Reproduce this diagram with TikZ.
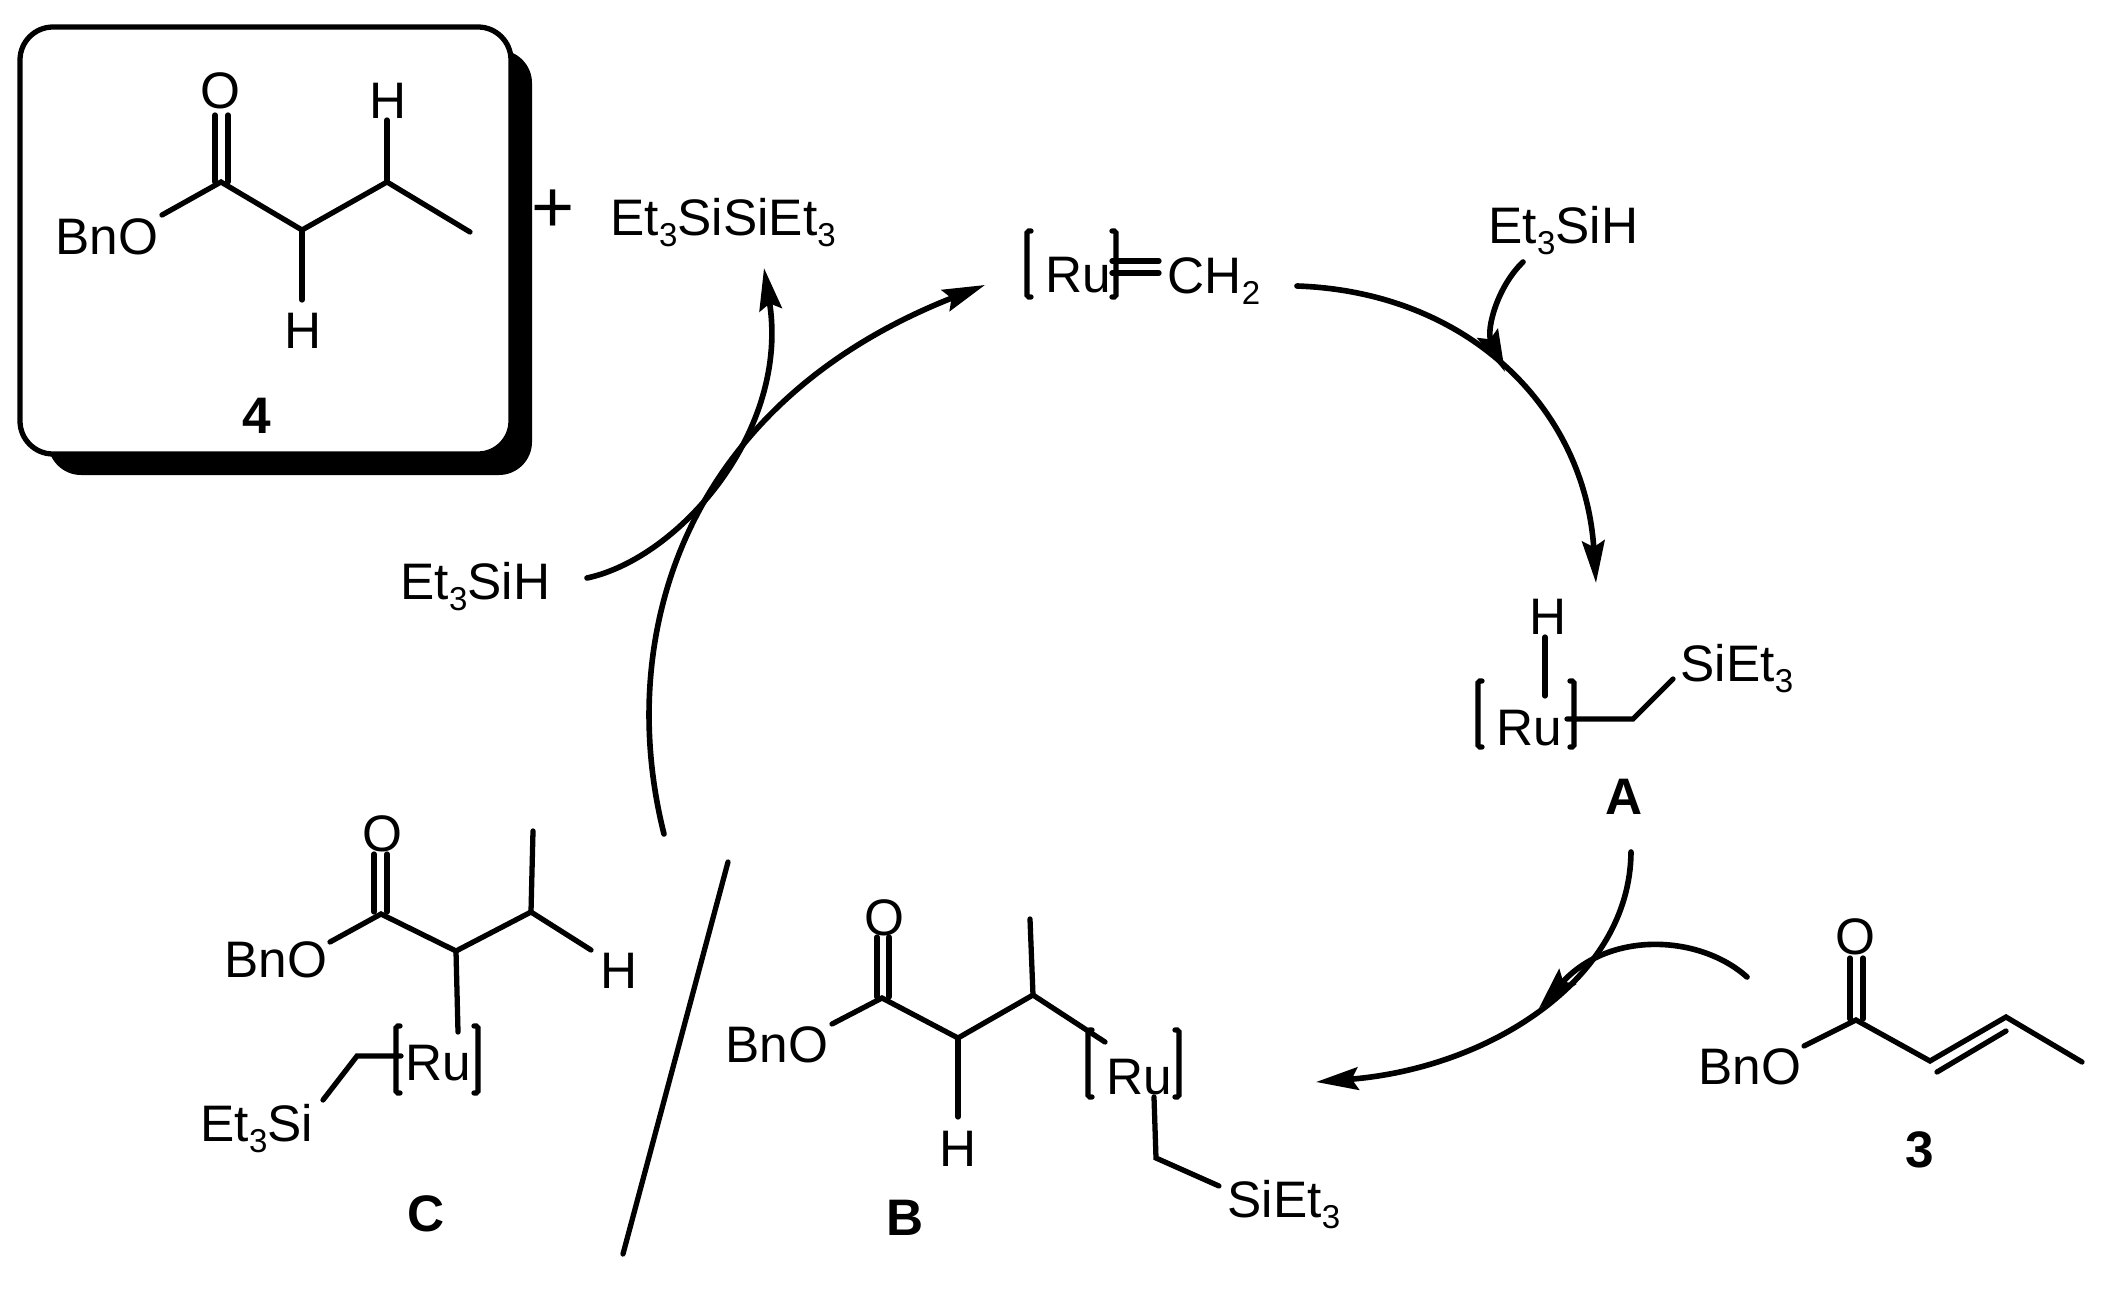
\documentclass[tikz,border=0pt]{standalone}
\usepackage{fontspec}
\setmainfont{Liberation Sans}
\usetikzlibrary{arrows.meta}
\newcommand{\subnum}[1]{\raisebox{-3.4pt}{\fontsize{9.4}{10}\selectfont #1}}
\tikzset{
    atom/.style={
        anchor=base,
        inner sep=0pt,
        font=\fontsize{14.6}{16}\selectfont
    },
    group/.style={
        anchor=base west,
        inner sep=0pt,
        font=\fontsize{14.6}{16}\selectfont
    },
    tag/.style={
        anchor=center,
        inner sep=0pt,
        font=\fontsize{14.6}{16}\selectfont\bfseries
    },
    bond/.style={
        line width=1.5pt,
        line cap=round
    },
    bracket/.style={
        line width=1.5pt,
        line cap=round,
        rounded corners=0.5pt
    },
    curved/.style={
        line width=1.6pt,
        line cap=round,
        -{Stealth[length=12pt,width=6.4pt,inset=1.8pt]}
    }
}
\begin{document}
\begin{tikzpicture}[x=0.01cm, y=-0.01cm]
    \useasboundingbox (0,0) rectangle (2120,1306);

    % Framed product
    \fill[black, rounded corners=9.4pt] (48,50) rectangle (532,475);
    \draw[fill=white, line width=1.5pt, rounded corners=9.4pt] (20,27) rectangle (511,454);

    % Product 4
    \node[group] (bno4) at (55,254) {BnO};
    \node[atom] (o4) at (220,108) {O};
    \node[atom] (ha4) at (388,118) {H};
    \node[atom] (hb4) at (303,348) {H};
    \node[tag] (lab4) at (257,416) {4};
    \coordinate (a4) at (221,182);
    \coordinate (b4) at (302,230);
    \coordinate (c4) at (387,182);
    \coordinate (d4) at (470,232);
    \coordinate (oe4) at (162,215);
    \coordinate (ht4) at (387,120);
    \coordinate (hd4) at (302,300);
    \draw[bond] (oe4) -- (a4) -- (b4) -- (c4) -- (d4);
    \draw[bond] (c4) -- (ht4);
    \draw[bond] (b4) -- (hd4);
    \draw[bond] (215,182) -- (215,115);
    \draw[bond] (228,182) -- (228,115);

    % Plus and disilane
    \node[anchor=center, inner sep=0pt, font=\fontsize{21}{24}\selectfont] (plus) at (553,211) {+};
    \node[group] (disilane) at (610,235) {Et\subnum{3}SiSiEt\subnum{3}};

    % Carbene
    \node[group] (ruz) at (1045,292) {Ru};
    \node[group] (ch2) at (1167,293) {CH\subnum{2}};
    \draw[bracket] (1031,231) -- (1027,231) -- (1027,297) -- (1031,297);
    \draw[bracket] (1112,231) -- (1116,231) -- (1116,297) -- (1112,297);
    \draw[bond] (1112,261) -- (1159,261);
    \draw[bond] (1112,273) -- (1159,273);

    % Silane in, top right
    \node[group] (silaner) at (1488,243) {Et\subnum{3}SiH};

    % Intermediate A
    \node[atom] (ha) at (1548,634) {H};
    \node[group] (rua) at (1496,745) {Ru};
    \node[group] (sia) at (1680,681) {SiEt\subnum{3}};
    \node[tag] (laba) at (1624,797) {A};
    \coordinate (ra) at (1567,719);
    \coordinate (ca) at (1633,719);
    \coordinate (ea) at (1673,679);
    \draw[bracket] (1482,681) -- (1478,681) -- (1478,747) -- (1482,747);
    \draw[bracket] (1570,681) -- (1574,681) -- (1574,747) -- (1570,747);
    \draw[bond] (1545,637) -- (1545,696);
    \draw[bond] (ra) -- (ca) -- (ea);

    % Substrate 3
    \node[group] (bno3) at (1698,1084) {BnO};
    \node[atom] (o3) at (1855,954) {O};
    \node[tag] (lab3) at (1920,1150) {3};
    \coordinate (a3) at (1856,1020);
    \coordinate (b3) at (1930,1061);
    \coordinate (c3) at (2006,1017);
    \coordinate (d3) at (2082,1062);
    \coordinate (oe3) at (1804,1046);
    \draw[bond] (oe3) -- (a3) -- (b3) -- (c3) -- (d3);
    \draw[bond] (1937,1072) -- (2006,1031);
    \draw[bond] (1850,1019) -- (1850,958);
    \draw[bond] (1863,1019) -- (1863,958);

    % Intermediate B
    \node[group] (bnob) at (725,1062) {BnO};
    \node[atom] (ob) at (884,935) {O};
    \node[atom] (hb) at (958,1166) {H};
    \node[group] (rub) at (1106,1094) {Ru};
    \node[group] (sib) at (1227,1217) {SiEt\subnum{3}};
    \node[tag] (labb) at (905,1218) {B};
    \coordinate (ab) at (882,998);
    \coordinate (bb) at (958,1038);
    \coordinate (cb) at (1033,995);
    \coordinate (mb) at (1030,919);
    \coordinate (rb) at (1105,1042);
    \coordinate (oeb) at (832,1024);
    \coordinate (hdb) at (958,1117);
    \draw[bond] (oeb) -- (ab) -- (bb) -- (cb) -- (rb);
    \draw[bond] (cb) -- (mb);
    \draw[bond] (bb) -- (hdb);
    \draw[bond] (877,997) -- (877,937);
    \draw[bond] (889,997) -- (889,937);
    \draw[bracket] (1092,1030) -- (1088,1030) -- (1088,1097) -- (1092,1097);
    \draw[bracket] (1175,1030) -- (1179,1030) -- (1179,1097) -- (1175,1097);
    \draw[bond] (1154,1097) -- (1156,1158) -- (1219,1186);

    % Intermediate C
    \node[group] (bnoc) at (224,977) {BnO};
    \node[atom] (oc) at (382,851) {O};
    \node[atom] (hc) at (619,988) {H};
    \node[group] (ruc) at (405,1080) {Ru};
    \node[group] (sic) at (200,1141) {Et\subnum{3}Si};
    \node[tag] (labc) at (426,1214) {C};
    \coordinate (ac) at (381,914);
    \coordinate (bc) at (456,951);
    \coordinate (cc) at (531,912);
    \coordinate (mc) at (533,831);
    \coordinate (ec) at (591,950);
    \coordinate (oec) at (330,942);
    \coordinate (rc) at (458,1032);
    \draw[bond] (oec) -- (ac) -- (bc) -- (cc) -- (ec);
    \draw[bond] (cc) -- (mc);
    \draw[bond] (bc) -- (rc);
    \draw[bond] (374,912) -- (374,854);
    \draw[bond] (387,912) -- (387,854);
    \draw[bracket] (400,1026) -- (396,1026) -- (396,1093) -- (400,1093);
    \draw[bracket] (474,1026) -- (478,1026) -- (478,1093) -- (474,1093);
    \draw[bond] (401,1056) -- (357,1056) -- (323,1100);

    % Divider between B and C
    \coordinate (divt) at (728,862);
    \coordinate (divb) at (623,1254);
    \draw[bond] (divt) -- (divb);

    % Silane in, left
    \node[group] (silanel) at (400,599) {Et\subnum{3}SiH};

    % Cycle arrows
    \coordinate (s1) at (1297,286);
    \coordinate (e1) at (1596,583);
    \coordinate (s2) at (1631,852);
    \coordinate (e2) at (1316,1082);
    \coordinate (s3) at (664,834);
    \coordinate (e3) at (985,285);
    \draw[curved] (s1) .. controls (1470,292) and (1585,410) .. (e1);
    \draw[curved] (s2) .. controls (1630,979) and (1490,1068) .. (e2);
    \draw[curved] (s3) .. controls (615,640) and (680,405) .. (e3);

    % Side arrows
    \coordinate (s4) at (1523,262);
    \coordinate (e4) at (1505,372);
    \coordinate (s5) at (1747,977);
    \coordinate (e5) at (1539,1008);
    \coordinate (s6) at (587,578);
    \coordinate (e6) at (764,268);
    \draw[curved] (s4) .. controls (1497,287) and (1486,330) .. (e4);
    \draw[curved] (s5) .. controls (1700,935) and (1610,930) .. (e5);
    \draw[curved] (s6) .. controls (680,558) and (790,430) .. (e6);
\end{tikzpicture}
\end{document}
